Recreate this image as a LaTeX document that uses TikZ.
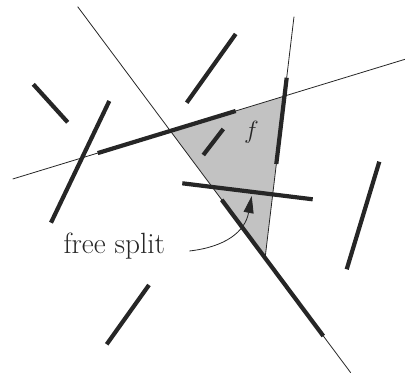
\documentclass[tikz,border=0pt]{standalone}
\usetikzlibrary{arrows.meta}
\begin{document}
\begin{tikzpicture}[x=1pt,y=-1pt,
  thinline/.style={line width=0.8pt,draw=black!85},
  thickseg/.style={line width=4.2pt,draw=black!85},
  face/.style={fill=black!24}]
\useasboundingbox (0,0) rectangle (405,374);
% triangle vertices
\coordinate (V1) at (170.35,130.9);
\coordinate (V2) at (284.5,96.1);
\coordinate (V3) at (265.1,257.9);
% line ends
\coordinate (A1) at (77.7,6.7);
\coordinate (A2) at (350.7,372.7);
\coordinate (B1) at (294,16.7);
\coordinate (C1) at (12.7,179);
\coordinate (C2) at (405,59.3);
% shaded face
\fill[face] (V1) -- (V2) -- (V3) -- cycle;
% thin lines
\draw[thinline] (A1) -- (A2);
\draw[thinline] (B1) -- (V3);
\draw[thinline] (C1) -- (C2);
% thick segments
\draw[thickseg] (186.7,102.7) -- (235.7,34);
\draw[thickseg] (33.3,84.3) -- (67.7,122.3);
\draw[thickseg] (109.3,101) -- (51,222.7);
\draw[thickseg] (97.7,153.1) -- (235.7,111);
\draw[thickseg] (203.3,155) -- (223.3,129);
\draw[thickseg] (286.7,77.7) -- (276.3,164);
\draw[thickseg] (182.3,183.3) -- (312.7,199.3);
\draw[thickseg] (221.7,199.8) -- (323.3,336);
\draw[thickseg] (379.3,161.7) -- (346.7,269.3);
\draw[thickseg] (149,285) -- (106.7,344.3);
% labels
\node[font=\fontsize{32}{34}\selectfont,text=black!85,inner sep=0pt] (f) at (251.5,132.5) {$f$};
\node[font=\fontsize{29.3}{32}\selectfont,text=black!85,inner sep=0pt,anchor=base west] (fs) at (63.3,253.3) {free split};
\coordinate (tip) at (251.7,196);
\draw[line width=0.8pt,draw=black!85,-{Triangle[length=17pt,width=10pt]}] (189.3,251) .. controls (225,247) and (245,232) .. (tip);
\end{tikzpicture}
\end{document}
